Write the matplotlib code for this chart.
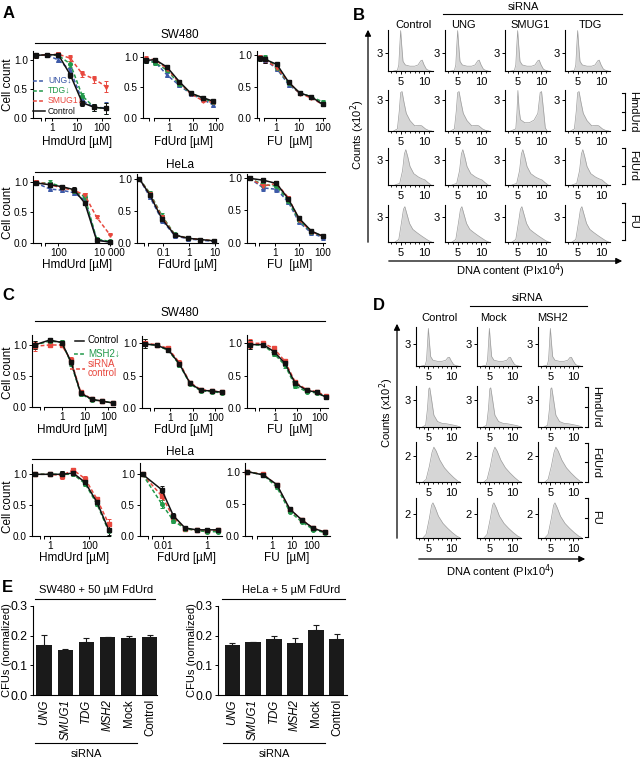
import numpy as np
import matplotlib
matplotlib.use('Agg')
import matplotlib.pyplot as plt
from matplotlib.lines import Line2D
from matplotlib.patches import FancyArrowPatch
from matplotlib.ticker import NullLocator

plt.rcParams['font.family'] = ['Liberation Sans', 'DejaVu Sans']
plt.rcParams['font.size'] = 7
plt.rcParams['axes.linewidth'] = 0.8

# ---------------- data ----------------
# dose-response, first value of each series = untreated (dose 0)
a_sw_hmd_dose = [0, 0.62, 1.85, 5.6, 16.7, 50, 150]
a_sw_hmd_ung = [1.08, 1.09, 1.00, 0.82, 0.30, 0.18, 0.17]
a_sw_hmd_tdg = [1.08, 1.09, 1.08, 0.93, 0.38, 0.18, 0.16]
a_sw_hmd_smug1 = [1.08, 1.09, 1.10, 1.03, 0.76, 0.67, 0.54]
a_sw_hmd_ctrl = [1.08, 1.09, 1.09, 0.74, 0.26, 0.18, 0.16]
a_sw_hmd_err = [0.04, 0.03, 0.03, 0.05, 0.05, 0.06, 0.10]

a_sw_fd_dose = [0, 0.25, 0.8, 2.7, 8.5, 27, 77]
a_sw_fd_ung = [0.94, 0.91, 0.70, 0.53, 0.39, 0.30, 0.21]
a_sw_fd_tdg = [0.94, 0.90, 0.78, 0.55, 0.40, 0.32, 0.25]
a_sw_fd_smug1 = [0.97, 0.95, 0.80, 0.58, 0.39, 0.28, 0.25]
a_sw_fd_ctrl = [0.94, 0.95, 0.83, 0.59, 0.40, 0.33, 0.27]
a_sw_fd_err = [0.04, 0.03, 0.03, 0.03, 0.02, 0.03, 0.03]

a_sw_fu_dose = [0, 0.35, 1.1, 3.5, 10.5, 33, 100]
a_sw_fu_ung = [0.96, 0.92, 0.78, 0.53, 0.40, 0.33, 0.22]
a_sw_fu_tdg = [0.95, 0.95, 0.80, 0.55, 0.40, 0.34, 0.26]
a_sw_fu_smug1 = [0.96, 0.92, 0.80, 0.57, 0.39, 0.32, 0.22]
a_sw_fu_ctrl = [0.95, 0.93, 0.85, 0.57, 0.40, 0.34, 0.22]
a_sw_fu_err = [0.04, 0.05, 0.03, 0.03, 0.02, 0.02, 0.03]

a_he_hmd_dose = [0, 48, 135, 400, 1070, 3050, 10000]
a_he_hmd_ung = [0.98, 0.88, 0.86, 0.82, 0.70, 0.05, 0.01]
a_he_hmd_tdg = [0.98, 0.98, 0.92, 0.85, 0.75, 0.06, 0.02]
a_he_hmd_smug1 = [1.00, 0.95, 0.90, 0.86, 0.78, 0.42, 0.13]
a_he_hmd_ctrl = [0.98, 0.95, 0.92, 0.87, 0.65, 0.04, 0.01]
a_he_hmd_err = [0.02, 0.04, 0.03, 0.04, 0.03, 0.02, 0.01]

a_he_fd_dose = [0, 0.03, 0.09, 0.28, 0.9, 2.8, 9]
a_he_fd_ung = [1.0, 0.72, 0.35, 0.11, 0.06, 0.04, 0.02]
a_he_fd_tdg = [1.0, 0.78, 0.42, 0.13, 0.07, 0.05, 0.03]
a_he_fd_smug1 = [1.0, 0.76, 0.40, 0.12, 0.07, 0.05, 0.03]
a_he_fd_ctrl = [1.0, 0.75, 0.37, 0.12, 0.07, 0.05, 0.03]
a_he_fd_err = [0.01, 0.03, 0.04, 0.02, 0.01, 0.01, 0.01]

a_he_fu_dose = [0, 0.33, 1.15, 3.6, 10, 33, 100]
a_he_fu_ung = [1.0, 0.85, 0.83, 0.63, 0.32, 0.15, 0.08]
a_he_fu_tdg = [1.0, 0.90, 0.88, 0.65, 0.35, 0.17, 0.10]
a_he_fu_smug1 = [1.0, 0.88, 0.92, 0.70, 0.36, 0.17, 0.10]
a_he_fu_ctrl = [1.0, 0.97, 0.92, 0.68, 0.38, 0.18, 0.10]
a_he_fu_err = [0.02, 0.04, 0.04, 0.03, 0.02, 0.02, 0.01]

c_sw_hmd_dose = [0, 0.3, 1, 2.5, 6.5, 20, 55, 160]
c_sw_hmd_ctrl = [1.0, 1.08, 1.04, 0.73, 0.22, 0.12, 0.09, 0.06]
c_sw_hmd_msh2 = [1.0, 1.06, 1.05, 0.71, 0.21, 0.11, 0.09, 0.06]
c_sw_hmd_sirna = [0.98, 1.0, 1.0, 0.75, 0.24, 0.12, 0.09, 0.06]
c_sw_hmd_err = [0.07, 0.04, 0.03, 0.05, 0.03, 0.02, 0.02, 0.02]

c_sw_fd_dose = [0, 0.26, 0.84, 2.6, 7.6, 23, 69, 190]
c_sw_fd_ctrl = [0.99, 0.97, 0.90, 0.68, 0.38, 0.27, 0.26, 0.24]
c_sw_fd_msh2 = [0.99, 0.97, 0.89, 0.67, 0.37, 0.26, 0.25, 0.23]
c_sw_fd_sirna = [1.0, 0.98, 0.92, 0.70, 0.39, 0.28, 0.26, 0.24]
c_sw_fd_err = [0.07, 0.02, 0.03, 0.04, 0.02, 0.02, 0.02, 0.01]

c_sw_fu_dose = [0, 0.3, 0.9, 2.8, 8, 26, 73, 200]
c_sw_fu_ctrl = [0.98, 0.98, 0.87, 0.69, 0.38, 0.27, 0.24, 0.16]
c_sw_fu_msh2 = [0.98, 0.97, 0.84, 0.66, 0.34, 0.25, 0.23, 0.16]
c_sw_fu_sirna = [1.0, 1.0, 0.92, 0.72, 0.40, 0.28, 0.25, 0.18]
c_sw_fu_err = [0.07, 0.02, 0.03, 0.04, 0.03, 0.02, 0.02, 0.02]

c_he_hmd_dose = [0, 1, 4, 15, 60, 240, 950]
c_he_hmd_ctrl = [1.0, 1.0, 1.0, 1.02, 0.87, 0.55, 0.10]
c_he_hmd_msh2 = [1.0, 1.0, 1.0, 1.0, 0.85, 0.52, 0.08]
c_he_hmd_sirna = [1.0, 1.0, 0.98, 1.07, 0.93, 0.60, 0.20]
c_he_hmd_err = [0.02, 0.03, 0.06, 0.02, 0.04, 0.04, 0.08]

c_he_fd_dose = [0, 0.0085, 0.029, 0.1, 0.34, 1.0, 3.4]
c_he_fd_ctrl = [1.0, 0.75, 0.33, 0.13, 0.10, 0.10, 0.10]
c_he_fd_msh2 = [1.0, 0.52, 0.25, 0.12, 0.09, 0.07, 0.07]
c_he_fd_sirna = [1.0, 0.65, 0.30, 0.12, 0.09, 0.08, 0.09]
c_he_fd_err = [0.02, 0.06, 0.04, 0.02, 0.01, 0.02, 0.02]

c_he_fu_dose = [0, 0.38, 1.8, 8, 32, 120, 460]
c_he_fu_ctrl = [1.0, 0.95, 0.80, 0.42, 0.25, 0.12, 0.06]
c_he_fu_msh2 = [1.0, 0.95, 0.76, 0.38, 0.22, 0.10, 0.05]
c_he_fu_sirna = [1.0, 0.96, 0.79, 0.41, 0.25, 0.12, 0.06]
c_he_fu_err = [0.01, 0.02, 0.03, 0.03, 0.02, 0.02, 0.01]

# flow histograms, DNA content (PIx10^4) vs counts (x10^2)
hb_untr_x = [3.5, 4.3, 4.6, 4.8, 5.0, 5.2, 5.5, 6.0, 7.0, 8.0, 8.7, 9.3, 9.6, 10.0, 10.5, 11.0, 11.5]
hb_untr_y = [0, 0.1, 1.0, 4.0, 6.7, 4.5, 1.6, 1.0, 0.8, 0.8, 1.0, 1.7, 1.8, 1.0, 0.3, 0.1, 0]
hb_hmd_x = [3.5, 4.3, 4.7, 5.0, 5.3, 5.7, 6.2, 7.0, 8.0, 9.0, 9.5, 10.3, 11.0, 11.6]
hb_hmd_y = [0, 0.2, 1.9, 3.7, 3.8, 2.8, 1.7, 1.0, 0.5, 0.55, 0.5, 0.2, 0.05, 0]
hb_smug1_hmd_x = [3.5, 4.6, 4.85, 5.05, 5.3, 5.6, 6.5, 7.5, 8.5, 9.3, 9.8, 10.1, 10.5, 10.9, 11.3]
hb_smug1_hmd_y = [0, 0.2, 1.8, 3.9, 2.1, 1.1, 0.8, 0.8, 1.05, 1.7, 3.7, 3.8, 2.1, 0.3, 0]
hb_fd_x = [3.8, 4.8, 5.4, 5.8, 6.1, 6.5, 7.0, 7.8, 8.8, 9.5, 10.2, 10.8, 11.5]
hb_fd_y = [0, 0.2, 1.7, 3.7, 4.2, 3.4, 2.2, 1.35, 0.95, 0.75, 0.6, 0.3, 0]
hb_fu_x = [3.8, 4.6, 5.2, 5.6, 5.9, 6.3, 6.9, 7.6, 8.5, 9.5, 10.3, 11.0, 11.6]
hb_fu_y = [0, 0.3, 2.4, 3.9, 4.2, 3.4, 2.2, 1.5, 1.1, 0.7, 0.4, 0.15, 0]

hd_untr_x = [3.5, 4.3, 4.6, 4.8, 5.0, 5.2, 5.5, 6.0, 7.0, 8.0, 8.8, 9.3, 9.6, 10.0, 10.5, 11.0, 11.5]
hd_untr_y = [0, 0.1, 0.8, 3.0, 5.2, 3.5, 1.3, 0.8, 0.65, 0.65, 0.8, 1.2, 1.2, 0.7, 0.2, 0.05, 0]
hd_hmd_x = [3.7, 4.4, 4.8, 5.1, 5.3, 5.7, 6.2, 7.0, 8.0, 9.0, 10.0, 11.0, 12.0]
hd_hmd_y = [0, 0.2, 2.0, 4.2, 4.3, 3.0, 1.3, 0.6, 0.4, 0.35, 0.25, 0.15, 0]
hd_fd_x = [3.8, 4.5, 5.2, 5.8, 6.2, 6.7, 7.5, 8.5, 9.5, 10.5, 11.5, 12.0]
hd_fd_y = [0, 0.2, 1.2, 2.3, 2.7, 2.4, 1.7, 1.1, 0.7, 0.35, 0.05, 0]
hd_fu_x = [3.8, 4.5, 5.2, 5.7, 6.0, 6.5, 7.2, 8.2, 9.2, 10.2, 11.2, 12.0]
hd_fu_y = [0, 0.3, 1.6, 2.7, 2.9, 2.5, 1.8, 1.2, 0.8, 0.45, 0.15, 0]

# colony formation
e_labels = ['UNG', 'SMUG1', 'TDG', 'MSH2', 'Mock', 'Control']
e_sw_mean = [0.169, 0.151, 0.180, 0.194, 0.192, 0.194]
e_sw_err = [0.034, 0.003, 0.012, 0.002, 0.008, 0.009]
e_he_mean = [0.169, 0.177, 0.190, 0.174, 0.220, 0.190]
e_he_err = [0.005, 0.002, 0.009, 0.018, 0.015, 0.014]

# ---------------- layout helpers (pixels, top-left origin) ----------------
W, H = 643, 759
fig = plt.figure(figsize=(W / 100, H / 100), dpi=100)

BLUE, GREEN, RED, BLACK = '#3d5aa8', '#22994a', '#e8483e', '#111111'
TICK_FS = 7.2
LAB_FS = 8.5


def box(l, t, r, b):
    return fig.add_axes([l / W, 1 - b / H, (r - l) / W, (b - t) / H])


def ftext(x, y, s, **kw):
    kw.setdefault('ha', 'center')
    kw.setdefault('va', 'center')
    fig.text(x / W, 1 - y / H, s, **kw)


def fline(x0, y0, x1, y1, **kw):
    kw.setdefault('color', 'k')
    kw.setdefault('lw', 0.8)
    fig.add_artist(Line2D([x0 / W, x1 / W], [1 - y0 / H, 1 - y1 / H], transform=fig.transFigure, **kw))


def farrow(x0, y0, x1, y1):
    fig.add_artist(FancyArrowPatch((x0 / W, 1 - y0 / H), (x1 / W, 1 - y1 / H), transform=fig.transFigure,
                                   arrowstyle='-|>', mutation_scale=9, lw=0.9, color='k'))


def dose_panel(l, r, y0, y1, top, anchor, anchor_px, dec, doses, series, err, ticks, labels):
    u = y0 - y1
    ax = box(l, y0 - top * u, r, y0)
    ax.set_xscale('log')
    x_at = lambda px: anchor * 10 ** ((px - anchor_px) / dec)
    ax.set_xlim(x_at(l), x_at(r))
    ax.set_ylim(0, top)
    first_px = anchor_px + dec * np.log10(doses[1] / anchor)
    s2 = min(l + 12, first_px - 1.5)
    s1 = s2 - 4.5
    xs = [x_at(l + 2.5)] + list(doses[1:])
    for vals, color, ls, mk in series:
        ax.errorbar(xs, vals, yerr=err, color=color, ls=ls, marker=mk, ms=2.6, lw=1.1,
                    elinewidth=0.7, capsize=1.6, capthick=0.7, clip_on=False,
                    dashes=(2.5, 1.5) if ls == '--' else (None, None))
    for sp in ['top', 'right', 'bottom']:
        ax.spines[sp].set_visible(False)
    ax.plot([x_at(l), x_at(s1)], [0, 0], color='k', lw=0.8, clip_on=False)
    ax.plot([x_at(s2), x_at(r)], [0, 0], color='k', lw=0.8, clip_on=False)
    ax.set_xticks([x_at(s1), x_at(s2)] + ticks)
    ax.set_xticklabels(['', ''] + labels)
    ax.xaxis.set_minor_locator(NullLocator())
    ax.set_yticks([0, 0.5, 1.0])
    ax.set_yticklabels(['0.0', '0.5', '1.0'])
    ax.tick_params(length=2.5, width=0.7, pad=1.2, labelsize=TICK_FS)
    return ax


def four(ung, tdg, smug1, ctrl):
    return [(ung, BLUE, '--', '^'), (tdg, GREEN, '--', 'o'), (smug1, RED, '--', 'v'), (ctrl, BLACK, '-', 's')]


def three(ctrl, msh2, sirna):
    return [(sirna, RED, '--', 's'), (msh2, GREEN, '--', 'o'), (ctrl, BLACK, '-', 's')]


def histo(l, t, r, b, xs, ys, top, ytick):
    ax = box(l, t, r, b)
    ax.fill_between(xs, ys, color='#d6d6d6', lw=0)
    ax.plot(xs, ys, color='#9c9c9c', lw=0.5)
    ax.set_xlim(2.3, 11.9)
    ax.set_ylim(0, top)
    ax.set_xticks([5, 10])
    ax.set_xticks(range(3, 12), minor=True)
    ax.set_yticks([ytick])
    for sp in ['top', 'right']:
        ax.spines[sp].set_visible(False)
    ax.tick_params(length=2.5, width=0.7, pad=1.5, labelsize=8)
    ax.tick_params(which='minor', length=1.5, width=0.6)
    return ax


def bracket(x, ya, yb, label):
    fline(x - 3, ya, x, ya)
    fline(x, ya, x, yb)
    fline(x - 3, yb, x, yb)
    fline(x - 3, (ya + yb) / 2, x, (ya + yb) / 2)
    ftext(x + 8, (ya + yb) / 2, label, rotation=-90, fontsize=8)


# ---------------- panel A ----------------
ftext(9, 13, 'A', fontsize=12, fontweight='bold')
ftext(180, 35, 'SW480', fontsize=8.5)
fline(35, 43, 325, 43)
dose_panel(33, 110, 117.7, 60, 1.15, 1, 51.7, 25, a_sw_hmd_dose,
           four(a_sw_hmd_ung, a_sw_hmd_tdg, a_sw_hmd_smug1, a_sw_hmd_ctrl), a_sw_hmd_err,
           [1, 10, 100], ['1', '10', '100'])
dose_panel(143, 218, 117.7, 56.7, 1.07, 1, 169.3, 23.3, a_sw_fd_dose,
           four(a_sw_fd_ung, a_sw_fd_tdg, a_sw_fd_smug1, a_sw_fd_ctrl), a_sw_fd_err,
           [1, 10, 100], ['1', '10', '100'])
dose_panel(257, 325, 118.3, 55, 1.06, 1, 276, 23.3, a_sw_fu_dose,
           four(a_sw_fu_ung, a_sw_fu_tdg, a_sw_fu_smug1, a_sw_fu_ctrl), a_sw_fu_err,
           [1, 10, 100], ['1', '10', '100'])
for i, (lab, col, ls) in enumerate([('UNG↓', BLUE, '--'), ('TDG↓', GREEN, '--'),
                                     ('SMUG1↓', RED, '--'), ('Control', BLACK, '-')]):
    yy = [80.5, 90.5, 100.5, 111][i]
    fline(33, yy, 45, yy, color=col, lw=1.1, ls=ls, dashes=(2.5, 1.5) if ls == '--' else (None, None))
    ftext(48, yy, lab, color=col, ha='left', fontsize=6.2)
ftext(8, 85, 'Cell count', rotation=90, fontsize=LAB_FS)
ftext(77, 142, 'HmdUrd [µM]', fontsize=LAB_FS)
ftext(183, 142, 'FdUrd [µM]', fontsize=LAB_FS)
ftext(290, 142, 'FU  [µM]', fontsize=LAB_FS)

ftext(180, 165, 'HeLa', fontsize=8.5)
fline(35, 172, 325, 172)
dose_panel(33, 112, 242.7, 181.7, 1.09, 100, 58.3, 25.8, a_he_hmd_dose,
           four(a_he_hmd_ung, a_he_hmd_tdg, a_he_hmd_smug1, a_he_hmd_ctrl), a_he_hmd_err,
           [100, 10000], ['100', '10 000'])
dose_panel(137, 218, 242.7, 179, 1.08, 0.1, 163.3, 25.7, a_he_fd_dose,
           four(a_he_fd_ung, a_he_fd_tdg, a_he_fd_smug1, a_he_fd_ctrl), a_he_fd_err,
           [0.1, 1, 10], ['0.1', '1', '10'])
dose_panel(247, 325, 242.7, 178.3, 1.07, 1, 275, 24, a_he_fu_dose,
           four(a_he_fu_ung, a_he_fu_tdg, a_he_fu_smug1, a_he_fu_ctrl), a_he_fu_err,
           [1, 10, 100], ['1', '10', '100'])
ftext(8, 213, 'Cell count', rotation=90, fontsize=LAB_FS)
ftext(77, 265, 'HmdUrd [µM]', fontsize=LAB_FS)
ftext(187, 265, 'FdUrd [µM]', fontsize=LAB_FS)
ftext(290, 265, 'FU  [µM]', fontsize=LAB_FS)

# ---------------- panel C ----------------
ftext(8, 296, 'C', fontsize=12, fontweight='bold')
ftext(180, 313, 'SW480', fontsize=8.5)
fline(35, 321, 325, 321)
dose_panel(32, 115, 406.7, 345, 1.16, 1, 61.7, 23.3, c_sw_hmd_dose,
           three(c_sw_hmd_ctrl, c_sw_hmd_msh2, c_sw_hmd_sirna), c_sw_hmd_err,
           [1, 10, 100], ['1', '10', '100'])
dose_panel(142, 222, 407.7, 343.3, 1.11, 1, 170, 22.7, c_sw_fd_dose,
           three(c_sw_fd_ctrl, c_sw_fd_msh2, c_sw_fd_sirna), c_sw_fd_err,
           [1, 10, 100], ['1', '10', '100'])
dose_panel(247, 328, 407.7, 343.3, 1.13, 1, 275, 22.3, c_sw_fu_dose,
           three(c_sw_fu_ctrl, c_sw_fu_msh2, c_sw_fu_sirna), c_sw_fu_err,
           [1, 10, 100], ['1', '10', '100'])
fline(75, 340.5, 84, 340.5, color=BLACK, lw=1.1)
ftext(88, 340, 'Control', ha='left', fontsize=7)
fline(74, 354, 85, 354, color=GREEN, lw=1.1, ls='--', dashes=(2.5, 1.5))
ftext(88, 353.5, 'MSH2↓', ha='left', color=GREEN, fontsize=7)
fline(70, 369, 85, 369, color=RED, lw=1.1, ls='--', dashes=(2.5, 1.5))
ftext(88, 364, 'siRNA', ha='left', color=RED, fontsize=7)
ftext(88, 373, 'control', ha='left', color=RED, fontsize=7)
ftext(8, 373, 'Cell count', rotation=90, fontsize=LAB_FS)
ftext(72, 429.5, 'HmdUrd [µM]', fontsize=LAB_FS)
ftext(183, 429.5, 'FdUrd [µM]', fontsize=LAB_FS)
ftext(290, 429.5, 'FU  [µM]', fontsize=LAB_FS)

ftext(180, 452, 'HeLa', fontsize=8.5)
fline(32, 459, 325, 459)
dose_panel(32, 110, 536, 474.3, 1.16, 1, 50, 19.7, c_he_hmd_dose,
           three(c_he_hmd_ctrl, c_he_hmd_msh2, c_he_hmd_sirna), c_he_hmd_err,
           [1, 100], ['1', '100'])
dose_panel(140, 222, 536, 474.3, 1.18, 0.01, 163.3, 21.7, c_he_fd_dose,
           three(c_he_fd_ctrl, c_he_fd_msh2, c_he_fd_sirna), c_he_fd_err,
           [0.01, 1], ['0.01', '1'])
dose_panel(245, 330, 536, 471.7, 1.13, 1, 271.7, 20, c_he_fu_dose,
           three(c_he_fu_ctrl, c_he_fu_msh2, c_he_fu_sirna), c_he_fu_err,
           [1, 10, 100], ['1', '10', '100'])
ftext(8, 507, 'Cell count', rotation=90, fontsize=LAB_FS)
ftext(74, 558, 'HmdUrd [µM]', fontsize=LAB_FS)
ftext(186, 558, 'FdUrd [µM]', fontsize=LAB_FS)
ftext(287, 558, 'FU  [µM]', fontsize=LAB_FS)

# ---------------- panel B ----------------
ftext(359, 15, 'B', fontsize=12, fontweight='bold')
ftext(523, 7, 'siRNA', fontsize=8)
fline(443, 14, 622, 14)
for xx, lab in zip([413, 463, 530, 590], ['Control', 'UNG', 'SMUG1', 'TDG']):
    ftext(xx, 25, lab, fontsize=8)
b_cols = [388, 445, 505, 565]
b_rows = [(30, 71), (90, 131), (148, 185), (205, 242)]
b_tops = [6.8, 3.95, 4.4, 4.4]
b_prof = [[(hb_untr_x, hb_untr_y)] * 4,
          [(hb_hmd_x, hb_hmd_y), (hb_hmd_x, hb_hmd_y), (hb_smug1_hmd_x, hb_smug1_hmd_y), (hb_hmd_x, hb_hmd_y)],
          [(hb_fd_x, hb_fd_y)] * 4,
          [(hb_fu_x, hb_fu_y)] * 4]
for ri, (t, b) in enumerate(b_rows):
    for ci, l in enumerate(b_cols):
        xs, ys = b_prof[ri][ci]
        histo(l, t, l + 45, b, xs, ys, b_tops[ri], 3)
farrow(368, 245, 368, 27)
ftext(358, 135, 'Counts (x10$^2$)', rotation=90, fontsize=8)
farrow(386, 261, 625, 261)
ftext(510, 271, 'DNA content (PIx10$^4$)', fontsize=8)
bracket(625, 93, 130, 'HmdUrd')
bracket(625, 148, 184, 'FdUrd')
bracket(625, 203, 240, 'FU')

# ---------------- panel D ----------------
ftext(379, 305, 'D', fontsize=12, fontweight='bold')
ftext(527, 298, 'siRNA', fontsize=8)
fline(470, 306, 587, 306)
for xx, lab in zip([440, 493, 553], ['Control', 'Mock', 'MSH2']):
    ftext(xx, 318, lab, fontsize=8)
d_cols = [416, 477, 538]
d_rows = [(327, 366), (386, 427), (442, 482), (498, 538)]
d_tops = [5.4, 4.5, 3.1, 3.3]
d_ticks = [3, 3, 2, 2]
d_prof = [(hd_untr_x, hd_untr_y), (hd_hmd_x, hd_hmd_y), (hd_fd_x, hd_fd_y), (hd_fu_x, hd_fu_y)]
for ri, (t, b) in enumerate(d_rows):
    for l in d_cols:
        histo(l, t, l + 44, b, d_prof[ri][0], d_prof[ri][1], d_tops[ri], d_ticks[ri])
farrow(397, 541, 397, 321)
ftext(387, 413, 'Counts (x10$^2$)', rotation=90, fontsize=8)
farrow(416, 559, 588, 559)
ftext(500, 572, 'DNA content (PIx10$^4$)', fontsize=8)
bracket(588, 387, 427, 'HmdUrd')
bracket(588, 443, 482, 'FdUrd')
bracket(588, 498, 537, 'FU')

# ---------------- panel E ----------------
ftext(7, 588, 'E', fontsize=12, fontweight='bold')


def bar_panel(l, r, xmin, xmax, means, errs):
    ax = box(l, 606, r, 695)
    pos = np.arange(len(means))
    ax.bar(pos, means, width=0.72, color='#1a1a1a')
    ax.errorbar(pos, means, yerr=[np.zeros(len(errs)), errs], fmt='none', ecolor='#1a1a1a',
                elinewidth=0.8, capsize=2.5, capthick=0.8)
    ax.set_xlim(xmin, xmax)
    ax.set_ylim(0, 0.3)
    ax.set_yticks([0, 0.1, 0.2, 0.3])
    ax.set_yticklabels(['0.0', '0.1', '0.2', '0.3'])
    ax.set_xticks(pos)
    ax.set_xticklabels(e_labels, rotation=90, fontsize=8.3)
    for i, tl in enumerate(ax.get_xticklabels()):
        if i < 4:
            tl.set_style('italic')
    for sp in ['top', 'right']:
        ax.spines[sp].set_visible(False)
    ax.tick_params(axis='x', length=0, pad=3)
    ax.tick_params(axis='y', length=2.5, width=0.7, pad=1.5, labelsize=8.8)
    return ax


bar_panel(33, 157, -0.52, 5.33, e_sw_mean, e_sw_err)
ftext(96, 590, 'SW480 + 50 µM FdUrd', fontsize=8)
fline(35, 599, 155, 599)
ftext(7, 650, 'CFUs (normalized)', rotation=90, fontsize=8)
fline(35, 743, 137, 743)
ftext(86, 754, 'siRNA', fontsize=8)

bar_panel(218, 347, -0.67, 5.48, e_he_mean, e_he_err)
ftext(291, 590, 'HeLa + 5 µM FdUrd', fontsize=8)
fline(222, 599, 345, 599)
ftext(192, 650, 'CFUs (normalized)', rotation=90, fontsize=8)
fline(223, 743, 325, 743)
ftext(274, 754, 'siRNA', fontsize=8)

fig.savefig('out.png', dpi=100)
